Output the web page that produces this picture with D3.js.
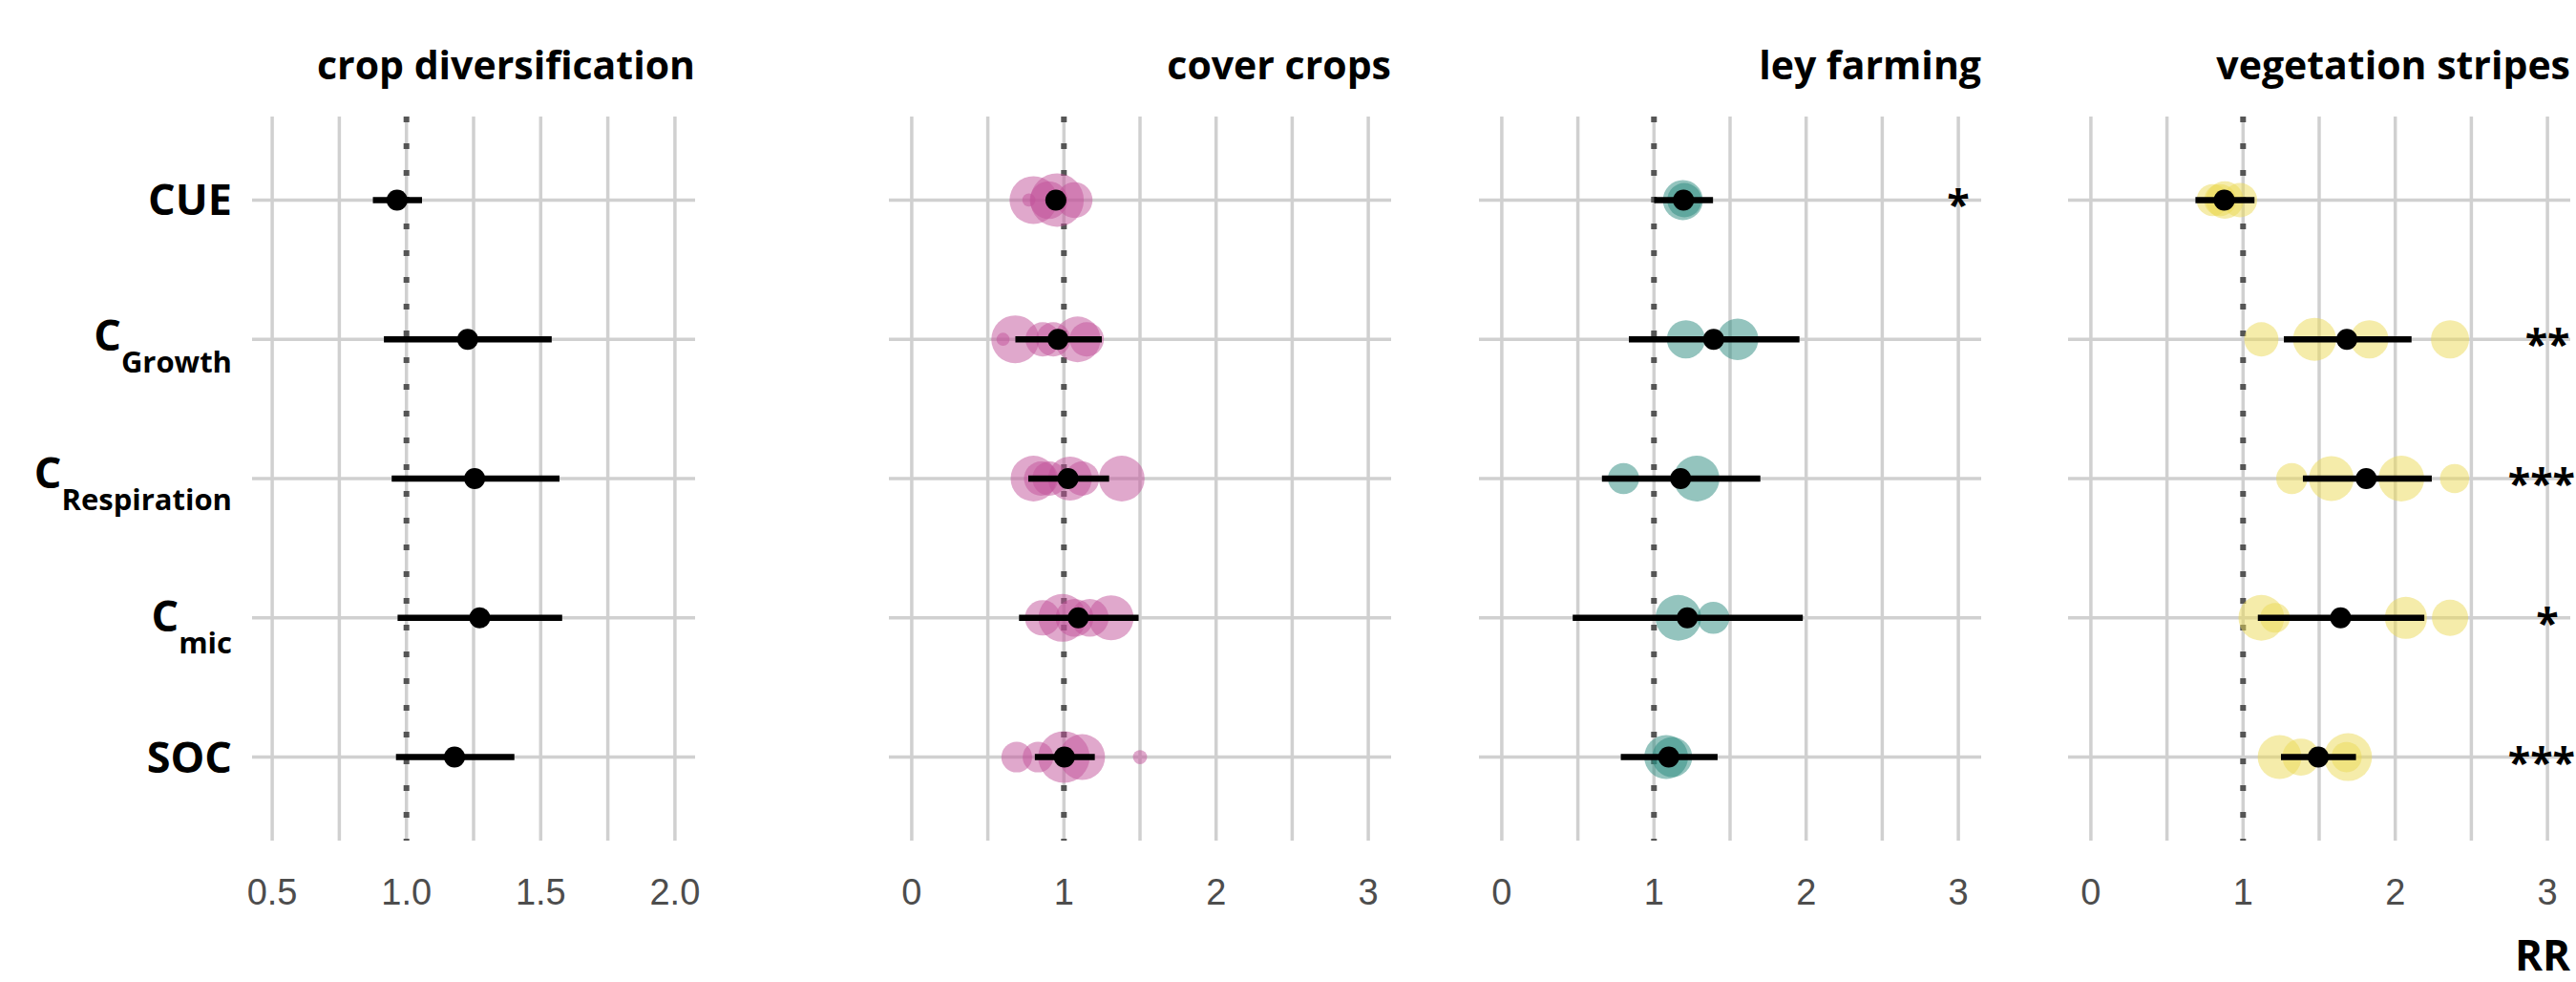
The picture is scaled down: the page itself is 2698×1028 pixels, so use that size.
<!DOCTYPE html>
<html><head><meta charset="utf-8">
<script src="https://cdn.jsdelivr.net/npm/d3@7"></script>
<style>body{margin:0;background:#fff}</style></head>
<body><svg id="c" width="2698" height="1028"></svg>
<script>
// ---------- DATA ----------
const variables = ["CUE", "CGrowth", "CRespiration", "Cmic", "SOC"];
const labelMain = ["CUE", "C", "C", "C", "SOC"];
const labelSub = ["", "Growth", "Respiration", "mic", ""];
const practices = ["crop diversification", "cover crops", "ley farming", "vegetation stripes"];

// pooled response ratio and 95% CI (order = variables)
const cropDivMean = [0.965, 1.228, 1.254, 1.273, 1.179];
const cropDivLow  = [0.875, 0.916, 0.945, 0.967, 0.961];
const cropDivHigh = [1.058, 1.541, 1.570, 1.580, 1.402];

const coverMean = [0.947, 0.961, 1.027, 1.094, 1.003];
const coverLow  = [0.885, 0.681, 0.766, 0.705, 0.809];
const coverHigh = [1.010, 1.249, 1.297, 1.491, 1.203];

const leyMean = [1.194, 1.392, 1.175, 1.219, 1.097];
const leyLow  = [1.001, 0.835, 0.658, 0.466, 0.782];
const leyHigh = [1.388, 1.956, 1.699, 1.978, 1.418];

const vegMean = [0.876, 1.682, 1.809, 1.641, 1.494];
const vegLow  = [0.687, 1.268, 1.393, 1.097, 1.249];
const vegHigh = [1.075, 2.107, 2.240, 2.191, 1.742];

// individual studies: [variable, RR, weight]
const cropDivStudies = [];
const coverStudies = [
  ["CUE",0.80,80],["CUE",0.77,6],["CUE",0.90,50],["CUE",0.955,100],["CUE",1.07,45],
  ["CGrowth",0.68,80],["CGrowth",0.60,6],["CGrowth",0.86,41],["CGrowth",0.93,41],["CGrowth",1.09,73],["CGrowth",1.15,41],
  ["CRespiration",0.80,73],["CRespiration",0.85,41],["CRespiration",0.905,41],["CRespiration",1.04,67],["CRespiration",1.12,41],["CRespiration",1.38,73],
  ["Cmic",0.86,44],["Cmic",0.99,80],["Cmic",1.07,50],["Cmic",1.17,50],["Cmic",1.31,71],
  ["SOC",0.69,33],["SOC",0.83,33],["SOC",1.00,93],["SOC",1.12,73],["SOC",1.50,7]
];
const leyStudies = [
  ["CUE",1.19,56],["CUE",1.20,41],
  ["CGrowth",1.21,51],["CGrowth",1.55,60],
  ["CRespiration",0.80,34],["CRespiration",1.28,73],
  ["Cmic",1.16,73],["Cmic",1.39,36],
  ["SOC",1.08,67],["SOC",1.12,56]
];
const vegStudies = [
  ["CUE",0.80,36],["CUE",0.85,36],["CUE",0.88,49],["CUE",0.98,41],
  ["CGrowth",1.12,41],["CGrowth",1.47,65],["CGrowth",1.83,51],["CGrowth",2.36,51],
  ["CRespiration",1.32,34],["CRespiration",1.58,70],["CRespiration",2.04,73],["CRespiration",2.39,30],
  ["Cmic",1.12,73],["Cmic",1.21,31],["Cmic",2.07,62],["Cmic",2.36,46],
  ["SOC",1.24,67],["SOC",1.38,48],["SOC",1.69,80],["SOC",1.68,32]
];

// significance labels (placed at RR = 3)
const leyStars = [["CUE","*"]];
const vegStars = [["CGrowth","**"],["CRespiration","***"],["Cmic","*"],["SOC","***"]];
const starPos = 3;

const cropDivTicks = [0.5, 1.0, 1.5, 2.0];
const otherTicks = [0, 1, 2, 3];

// ---------- LAYOUT ----------
const panels = [
  {title: practices[0], mean: cropDivMean, low: cropDivLow, high: cropDivHigh, studies: cropDivStudies, stars: [],
   x0: 264, x1: 728, dom: [0.425, 2.075], ticks: cropDivTicks, minor: d3.range(0.5, 2.01, 0.25), fmt: d3.format(".1f"), color: "#000"},
  {title: practices[1], mean: coverMean, low: coverLow, high: coverHigh, studies: coverStudies, stars: [],
   x0: 931, x1: 1457, dom: [-0.15, 3.15], ticks: otherTicks, minor: d3.range(0, 3.01, 0.5), fmt: d3.format("d"), color: "#C1519A"},
  {title: practices[2], mean: leyMean, low: leyLow, high: leyHigh, studies: leyStudies, stars: leyStars,
   x0: 1549, x1: 2075, dom: [-0.15, 3.15], ticks: otherTicks, minor: d3.range(0, 3.01, 0.5), fmt: d3.format("d"), color: "#29897D"},
  {title: practices[3], mean: vegMean, low: vegLow, high: vegHigh, studies: vegStudies, stars: vegStars,
   x0: 2166, x1: 2692, dom: [-0.15, 3.15], ticks: otherTicks, minor: d3.range(0, 3.01, 0.5), fmt: d3.format("d"), color: "#EBD955"}
];

const yTop = 122, yBottom = 880;
const y = d3.scalePoint().domain(variables).range([yTop, yBottom]).padding(0.6);
const r = d3.scaleSqrt().domain([0, 100]).range([0, 28]);

const svg = d3.select("#c");
const gridCol = "#d0d0d0";
const labelShift = {CUE: 16, CGrowth: 12, CRespiration: 10, Cmic: 14, SOC: 16};

// y labels
const yl = svg.append("g");
variables.forEach((v, i) => {
  const t = yl.append("text")
    .attr("x", 243).attr("y", y(v) + labelShift[v])
    .attr("text-anchor", "end")
    .attr("font-family", "Open Sans, sans-serif").attr("font-weight", 700)
    .attr("font-size", 45).attr("fill", "#000");
  t.append("tspan").text(labelMain[i]);
  if (labelSub[i]) t.append("tspan").attr("font-size", 31).attr("dy", 23).text(labelSub[i]);
});

panels.forEach(p => {
  const x = d3.scaleLinear().domain(p.dom).range([p.x0, p.x1]);
  const g = svg.append("g");
  g.selectAll(".vg").data(p.minor).join("line")
    .attr("x1", d => x(d)).attr("x2", d => x(d))
    .attr("y1", yTop).attr("y2", yBottom)
    .attr("stroke", gridCol).attr("stroke-width", 3.5);
  g.selectAll(".hg").data(variables).join("line")
    .attr("x1", p.x0).attr("x2", p.x1)
    .attr("y1", d => y(d)).attr("y2", d => y(d))
    .attr("stroke", gridCol).attr("stroke-width", 3.5);
  g.append("line").attr("x1", x(1)).attr("x2", x(1)).attr("y1", yTop).attr("y2", yBottom)
    .attr("stroke", "#555").attr("stroke-width", 6).attr("stroke-dasharray", "6 22");
  g.selectAll(".tl").data(p.ticks).join("text")
    .attr("x", d => x(d)).attr("y", 947)
    .attr("text-anchor", "middle")
    .attr("font-family", "Liberation Sans, Arial, sans-serif")
    .attr("font-size", 38).attr("fill", "#4d4d4d")
    .text(d => p.fmt(d));
  g.append("text").attr("x", p.x1).attr("y", 83).attr("text-anchor", "end")
    .attr("font-family", "Open Sans, sans-serif").attr("font-weight", 700)
    .attr("font-size", 41).attr("fill", "#000").text(p.title);
  g.selectAll(".st").data(p.studies).join("circle")
    .attr("cx", d => x(d[1])).attr("cy", d => y(d[0])).attr("r", d => r(d[2]))
    .attr("fill", p.color).attr("fill-opacity", 0.5);
  g.selectAll(".ci").data(variables).join("line")
    .attr("x1", (d, i) => x(p.low[i])).attr("x2", (d, i) => x(p.high[i]))
    .attr("y1", d => y(d)).attr("y2", d => y(d))
    .attr("stroke", "#000").attr("stroke-width", 6.5);
  g.selectAll(".mn").data(variables).join("circle")
    .attr("cx", (d, i) => x(p.mean[i])).attr("cy", d => y(d)).attr("r", 11)
    .attr("fill", "#000");
  g.selectAll(".sr").data(p.stars).join("text")
    .attr("x", x(starPos)).attr("y", d => y(d[0]) + 21)
    .attr("text-anchor", "middle")
    .attr("font-family", "Open Sans, sans-serif").attr("font-weight", 700)
    .attr("font-size", 43).attr("fill", "#000")
    .text(d => d[1])
    .each(function() {
      const w = this.getComputedTextLength();
      const cx = Math.min(x(starPos), 2697 - w / 2);
      d3.select(this).attr("x", cx);
    });
});

svg.append("text").attr("x", 2692).attr("y", 1016).attr("text-anchor", "end")
  .attr("font-family", "Open Sans, sans-serif").attr("font-weight", 700)
  .attr("font-size", 44).attr("fill", "#000").text("RR");
</script>
</body></html>
